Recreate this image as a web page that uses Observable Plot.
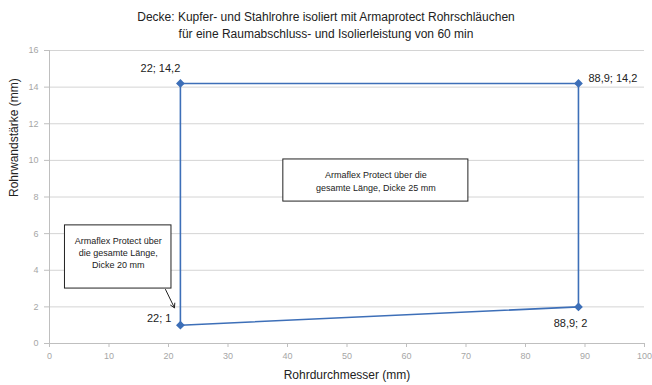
<!DOCTYPE html>
<html><head><meta charset="utf-8">
<script src="https://cdn.jsdelivr.net/npm/d3@7"></script>
<script src="https://cdn.jsdelivr.net/npm/@observablehq/plot@0.6"></script>
<style>
body{margin:0;background:#fff;font-family:"Liberation Sans",Arial,sans-serif;}
#title{height:44px;text-align:center;font-size:12px;line-height:17px;color:#222;padding-top:9px;box-sizing:border-box;}
#chart svg{display:block;}
</style></head><body>
<div id="title">Decke: Kupfer- und Stahlrohre isoliert mit Armaprotect Rohrschläuchen<br>für eine Raumabschluss- und Isolierleistung von 60 min</div>
<div id="chart"></div>
<script>
// Data
const pathX = [22, 88.9, 88.9, 22, 22];
const pathY = [1, 2, 14.2, 14.2, 1];
const pointX = [22, 88.9, 88.9, 22];
const pointY = [1, 2, 14.2, 14.2];
const pointLabels = ["22; 1", "88,9; 2", "88,9; 14,2", "22; 14,2"];
const xTicks = [0, 10, 20, 30, 40, 50, 60, 70, 80, 90, 100];
const yTicks = [0, 2, 4, 6, 8, 10, 12, 14, 16];
const xLabel = "Rohrdurchmesser (mm)";
const yLabel = "Rohrwandstärke (mm)";
const note25 = "Armaflex Protect über die\ngesamte Länge, Dicke 25 mm";
const note20 = "Armaflex Protect über\ndie gesamte Länge,\nDicke 20 mm";

const path = pathX.map((x, i) => ({x, y: pathY[i]}));
const points = pointX.map((x, i) => ({x, y: pointY[i], label: pointLabels[i]}));

// annotation geometry (data units)
const box25 = {x1: 39.3, x2: 70.4, y1: 7.75, y2: 10.05};
const box20 = {x1: 2.6, x2: 20.5, y1: 3.0, y2: 6.45};
const arrow20 = {x1: 19.5, y1: 2.95, x2: 21.0, y2: 1.95};

const labelStyle = [
  {dx: -9, dy: -7, textAnchor: "end"},
  {dx: -8, dy: 17, textAnchor: "middle"},
  {dx: 10, dy: -5, textAnchor: "start"},
  {dx: -20, dy: -15, textAnchor: "middle"}
];

const blue = "#3d6fb8";
const chart = Plot.plot({
  width: 652, height: 341,
  marginLeft: 49, marginRight: 8, marginTop: 6, marginBottom: 42,
  style: {fontFamily: "'Liberation Sans', Arial, sans-serif", background: "#fff"},
  x: {domain: [0, 100]},
  y: {domain: [0, 16]},
  marks: [
    Plot.gridY(yTicks, {stroke: "#d4d4d4", strokeOpacity: 1}),
    Plot.axisY(yTicks, {tickSize: 5, tickPadding: 6, fontSize: 9, color: "#a6a6a6", stroke: "#bfbfbf", label: null}),
    Plot.axisX(xTicks, {tickSize: 4, tickPadding: 5, fontSize: 9, color: "#a6a6a6", stroke: "#bfbfbf", label: null}),
    Plot.ruleX([0], {stroke: "#bfbfbf"}),
    Plot.ruleY([0], {stroke: "#bfbfbf"}),
    Plot.text([xLabel], {frameAnchor: "bottom", dy: 35, fontSize: 12, fill: "#222"}),
    Plot.text([yLabel], {frameAnchor: "left", dx: -35, rotate: -90, fontSize: 12, fill: "#222"}),
    Plot.line(path, {x: "x", y: "y", stroke: blue, strokeWidth: 1.6}),
    Plot.dot(points, {x: "x", y: "y", symbol: "diamond2", r: 3, fill: blue, stroke: blue}),
    ...points.map((p, i) => Plot.text([p], {x: "x", y: "y", text: "label", fontSize: 11, fill: "#222", ...labelStyle[i]})),
    Plot.rect([box25], {x1: "x1", x2: "x2", y1: "y1", y2: "y2", fill: "#fff", stroke: "#222", strokeWidth: 1}),
    Plot.text([box25], {x: d => (d.x1 + d.x2) / 2, y: d => (d.y1 + d.y2) / 2, text: () => note25, fontSize: 9, fill: "#222", lineHeight: 1.4}),
    Plot.rect([box20], {x1: "x1", x2: "x2", y1: "y1", y2: "y2", fill: "#fff", stroke: "#222", strokeWidth: 1}),
    Plot.text([box20], {x: d => (d.x1 + d.x2) / 2, y: "y2", dy: 27, text: () => note20, fontSize: 9, fill: "#222", lineHeight: 1.35, lineAnchor: "middle"}),
    Plot.arrow([arrow20], {x1: "x1", y1: "y1", x2: "x2", y2: "y2", stroke: "#222", strokeWidth: 1, headLength: 7})
  ]
});
document.getElementById("chart").appendChild(chart);
</script>
</body></html>
